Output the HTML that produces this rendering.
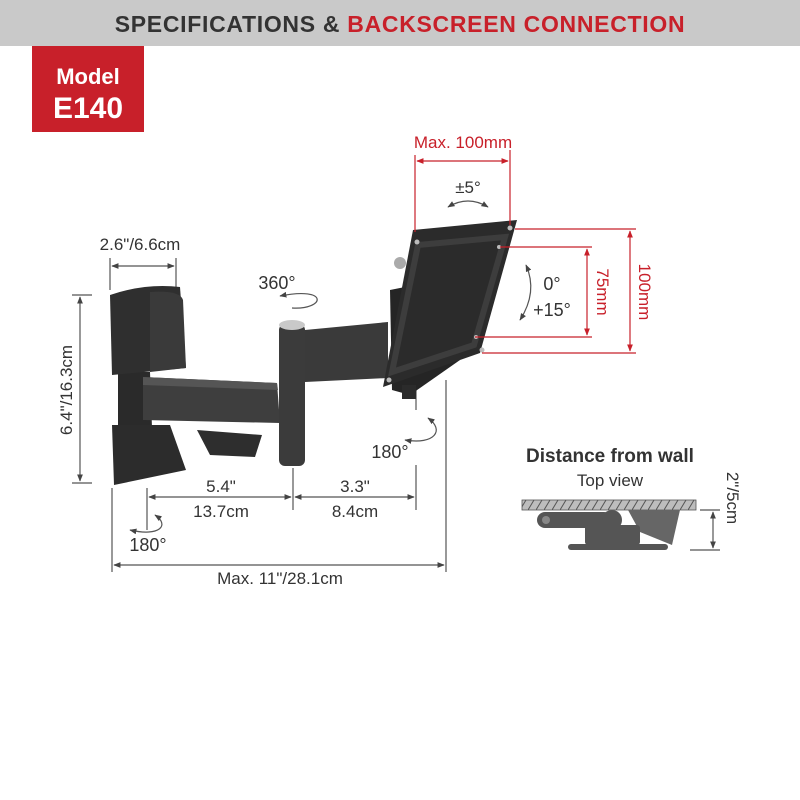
<!DOCTYPE html>
<html><head><style>
body{margin:0;background:#fff;width:800px;height:800px;overflow:hidden}
svg{display:block}
text{font-family:"Liberation Sans",sans-serif}
</style></head><body>
<svg width="800" height="800" viewBox="0 0 800 800" xmlns="http://www.w3.org/2000/svg">
<defs>
<marker id="a" viewBox="0 0 10 10" refX="9" refY="5" markerWidth="6" markerHeight="6" orient="auto-start-reverse"><path d="M0,1 L10,5 L0,9z" fill="#444"/></marker>
<marker id="r" viewBox="0 0 10 10" refX="9" refY="5" markerWidth="6" markerHeight="6" orient="auto-start-reverse"><path d="M0,1 L10,5 L0,9z" fill="#c8202a"/></marker>
<pattern id="h" width="8" height="10" patternUnits="userSpaceOnUse"><rect width="8" height="10" fill="#bdbdbd"/><path d="M0,10 L6,0" stroke="#555" stroke-width="1"/></pattern>
</defs>
<rect x="0" y="0" width="800" height="46" fill="#c9c9c9"/>
<text x="400" y="32" text-anchor="middle" font-size="23" font-weight="bold" fill="#333" letter-spacing="0.7">SPECIFICATIONS &amp; <tspan fill="#c8202a">BACKSCREEN CONNECTION</tspan></text>
<rect x="32" y="46" width="112" height="86" fill="#c8202a"/>
<text x="88" y="84" text-anchor="middle" font-size="22" font-weight="bold" fill="#fff">Model</text>
<text x="88" y="118" text-anchor="middle" font-size="30" font-weight="bold" fill="#fff">E140</text>

<g stroke="#555" stroke-width="1.2" fill="none">
<line x1="110" y1="258" x2="110" y2="290"/><line x1="176" y1="258" x2="176" y2="290"/>
<line x1="112" y1="266" x2="174" y2="266" marker-start="url(#a)" marker-end="url(#a)"/>
<line x1="72" y1="295" x2="92" y2="295"/><line x1="72" y1="483" x2="92" y2="483"/>
<line x1="80" y1="297" x2="80" y2="481" marker-start="url(#a)" marker-end="url(#a)"/>
<line x1="147" y1="488" x2="147" y2="530"/><line x1="293" y1="468" x2="293" y2="510"/><line x1="416" y1="465" x2="416" y2="510"/>
<line x1="149" y1="497" x2="291" y2="497" marker-start="url(#a)" marker-end="url(#a)"/>
<line x1="295" y1="497" x2="414" y2="497" marker-start="url(#a)" marker-end="url(#a)"/>
<line x1="112" y1="488" x2="112" y2="572"/><line x1="446" y1="380" x2="446" y2="572"/>
<line x1="114" y1="565" x2="444" y2="565" marker-start="url(#a)" marker-end="url(#a)"/>
<line x1="416" y1="388" x2="416" y2="410"/>
<path d="M280,296 C330,286 325,310 292,308" marker-start="url(#a)"/>
<path d="M428,418 C445,430 435,445 405,440" marker-start="url(#a)" marker-end="url(#a)"/>
<path d="M155,515 C170,525 160,537 130,530" marker-start="url(#a)" marker-end="url(#a)"/>
<path d="M448,207 Q468,195 488,207" marker-start="url(#a)" marker-end="url(#a)"/>
<path d="M526,265 Q538,292 520,320" marker-start="url(#a)" marker-end="url(#a)"/>
</g>
<g font-size="17" fill="#333" text-anchor="middle">
<text x="140" y="250">2.6"/6.6cm</text>
<text transform="translate(72,390) rotate(-90)">6.4"/16.3cm</text>
<text x="277" y="289" font-size="18">360°</text>
<text x="468" y="193">±5°</text>
<text x="552" y="290" font-size="18">0°</text>
<text x="552" y="316" font-size="18">+15°</text>
<text x="390" y="458" font-size="18">180°</text>
<text x="221" y="492">5.4"</text><text x="221" y="517">13.7cm</text>
<text x="355" y="492">3.3"</text><text x="355" y="517">8.4cm</text>
<text x="148" y="551" font-size="18">180°</text>
<text x="280" y="584">Max. 11"/28.1cm</text>
</g>

<g>
<path d="M118,372 L150,372 L152,428 L118,430Z" fill="#2a2a2a"/>
<path d="M110,295 Q145,283 180,287 L186,368 L112,375Z" fill="#2f2f2f"/>
<path d="M150,292 Q180,290 183,300 L186,368 L150,372Z" fill="#3a3a3a"/>
<path d="M112,425 L170,425 L186,470 L114,485Z" fill="#2c2c2c"/>
<path d="M143,377 L277,383 L280,423 L143,420Z" fill="#3e3e3e"/>
<path d="M143,377 L277,383 L278,390 L143,385Z" fill="#555"/>
<path d="M197,430 L262,435 L255,457 L210,455Z" fill="#2e2e2e"/>
<rect x="279" y="324" width="26" height="142" rx="6" fill="#3b3b3b"/>
<ellipse cx="292" cy="325" rx="13" ry="5" fill="#c9c9c9"/>
<path d="M305,330 L388,322 L388,378 L305,382Z" fill="#3a3a3a"/>
<path d="M390,290 L440,280 L460,360 L410,395 L392,390Z" fill="#252525"/>
<path d="M413,230 L517,220 L480,353 L383,387Z" fill="#2b2b2b"/>
<path d="M418,245 L505,237 L474,345 L392,372Z" fill="none" stroke="#3d3d3d" stroke-width="6"/>
<g fill="#bbb">
<circle cx="417" cy="242" r="2.5"/><circle cx="510" cy="228" r="2.5"/>
<circle cx="499" cy="247" r="2"/><circle cx="476" cy="337" r="2"/>
<circle cx="482" cy="350" r="2.5"/><circle cx="389" cy="380" r="2.5"/>
</g>
<circle cx="400" cy="263" r="6" fill="#aaa"/>
<rect x="402" y="385" width="14" height="14" fill="#2b2b2b"/>
</g>

<g stroke="#c8202a" stroke-width="1.2" fill="none">
<line x1="415" y1="155" x2="415" y2="232"/><line x1="510" y1="150" x2="510" y2="225"/>
<line x1="417" y1="161" x2="508" y2="161" marker-start="url(#r)" marker-end="url(#r)"/>
<line x1="515" y1="229" x2="636" y2="229"/><line x1="500" y1="247" x2="592" y2="247"/>
<line x1="475" y1="337" x2="592" y2="337"/><line x1="482" y1="353" x2="636" y2="353"/>
<line x1="587" y1="249" x2="587" y2="335" marker-start="url(#r)" marker-end="url(#r)"/>
<line x1="630" y1="231" x2="630" y2="351" marker-start="url(#r)" marker-end="url(#r)"/>
</g>
<g fill="#c8202a" font-size="17" text-anchor="middle">
<text x="463" y="148">Max. 100mm</text>
<text transform="translate(597,292) rotate(90)">75mm</text>
<text transform="translate(639,292) rotate(90)">100mm</text>
</g>

<text x="610" y="462" font-size="19" font-weight="bold" fill="#333" text-anchor="middle">Distance from wall</text>
<text x="610" y="486" font-size="17" fill="#333" text-anchor="middle">Top view</text>
<rect x="522" y="500" width="174" height="10" fill="url(#h)" stroke="#555" stroke-width="0.8"/>
<g fill="#555">
<rect x="537" y="512" width="75" height="16" rx="8"/>
<circle cx="546" cy="520" r="4" fill="#888"/>
<circle cx="612" cy="520" r="10"/>
<path d="M628,510 L680,510 L672,545 L640,532Z" fill="#666"/>
<rect x="585" y="525" width="55" height="20" rx="3"/>
<rect x="568" y="544" width="100" height="6" rx="3"/>
</g>
<g stroke="#555" stroke-width="1.2" fill="none">
<line x1="700" y1="510" x2="720" y2="510"/><line x1="690" y1="550" x2="720" y2="550"/>
<line x1="713" y1="512" x2="713" y2="548" marker-start="url(#a)" marker-end="url(#a)"/>
</g>
<text transform="translate(727,498) rotate(90)" font-size="17" fill="#333" text-anchor="middle">2"/5cm</text>
</svg>
</body></html>
